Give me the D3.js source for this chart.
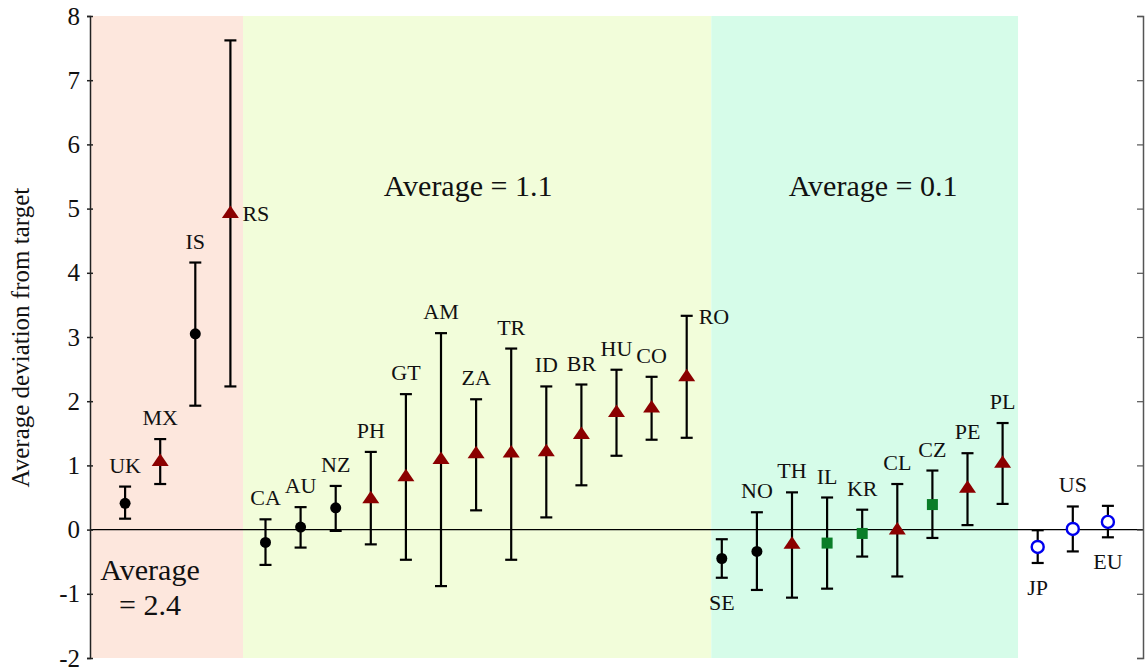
<!DOCTYPE html>
<html>
<head>
<meta charset="utf-8">
<script src="https://cdn.jsdelivr.net/npm/d3@7"></script>
<style>
  body { margin: 0; background: #fff; }
  text { font-family: "Liberation Serif", "Times New Roman", serif; fill: #111; }
</style>
</head>
<body>
<svg></svg>
<script>
var width = 1146;
var height = 670;

// countries, left to right
var countries = ["UK", "MX", "IS", "RS",
  "CA", "AU", "NZ", "PH", "GT", "AM", "ZA", "TR", "ID", "BR", "HU", "CO", "RO",
  "SE", "NO", "TH", "IL", "KR", "CL", "CZ", "PE", "PL",
  "JP", "US", "EU"];

// average deviation from target
var means = [0.41, 1.07, 3.05, 4.93,
  -0.20, 0.04, 0.34, 0.49, 0.83, 1.10, 1.19, 1.20, 1.22, 1.49, 1.83, 1.90, 2.39,
  -0.45, -0.34, -0.22, -0.21, -0.06, 0.00, 0.39, 0.65, 1.04,
  -0.27, 0.01, 0.12];

// error bar ends
var upper = [0.67, 1.41, 4.16, 7.62,
  0.16, 0.35, 0.68, 1.21, 2.11, 3.06, 2.03, 2.82, 2.23, 2.26, 2.49, 2.38, 3.33,
  -0.15, 0.27, 0.58, 0.50, 0.31, 0.71, 0.92, 1.19, 1.66,
  -0.01, 0.36, 0.37];
var lower = [0.17, 0.71, 1.93, 2.23,
  -0.55, -0.28, -0.02, -0.23, -0.47, -0.88, 0.30, -0.47, 0.19, 0.69, 1.15, 1.40, 1.43,
  -0.75, -0.94, -1.06, -0.92, -0.42, -0.73, -0.13, 0.07, 0.40,
  -0.52, -0.34, -0.12];

// marker kind: dot = black circle, tri = red triangle, sq = green square, open = blue ring
var markers = ["dot", "tri", "dot", "tri",
  "dot", "dot", "dot", "tri", "tri", "tri", "tri", "tri", "tri", "tri", "tri", "tri", "tri",
  "dot", "dot", "tri", "sq", "sq", "tri", "sq", "tri", "tri",
  "open", "open", "open"];

// where the country code sits
var labelSide = ["above", "above", "above", "right",
  "above", "above", "above", "above", "above", "above", "above", "above", "above", "above", "above", "above", "rightTop",
  "below", "above", "above", "above", "above", "above", "above", "above", "above",
  "below", "above", "below"];

// shaded groups (x in slot units) and their averages
var groups = [
  { from: 0, to: 4.36, color: "#fde7dd", text: ["Average", "= 2.4"] },
  { from: 4.36, to: 17.7, color: "#f2fdda", text: ["Average = 1.1"] },
  { from: 17.7, to: 26.44, color: "#d6fce9", text: ["Average = 0.1"] }
];

var yTicks = [-2, -1, 0, 1, 2, 3, 4, 5, 6, 7, 8];

var colors = { dot: "#000", tri: "#8b0000", sq: "#0a7d28", open: "#0000ee" };

var svg = d3.select("svg")
  .attr("width", width)
  .attr("height", height);

var x = d3.scaleLinear().domain([0, 30]).range([90, 1143]);
var y = d3.scaleLinear().domain([-2, 8]).range([658, 16]);

// background bands
svg.selectAll("rect.band")
  .data(groups)
  .enter()
  .append("rect")
    .attr("class", "band")
    .attr("x", d => x(d.from))
    .attr("width", d => x(d.to) - x(d.from))
    .attr("y", y(8))
    .attr("height", y(-2) - y(8))
    .attr("fill", d => d.color);

// group averages
svg.append("text").attr("x", x(1.71)).attr("y", y(-0.63) + 10)
  .attr("text-anchor", "middle").style("font-size", "30px").text(groups[0].text[0]);
svg.append("text").attr("x", x(1.71)).attr("y", y(-1.17) + 10)
  .attr("text-anchor", "middle").style("font-size", "30px").text(groups[0].text[1]);
svg.append("text").attr("x", x(10.77)).attr("y", y(5.35) + 10)
  .attr("text-anchor", "middle").style("font-size", "30px").text(groups[1].text[0]);
svg.append("text").attr("x", x(22.31)).attr("y", y(5.35) + 10)
  .attr("text-anchor", "middle").style("font-size", "30px").text(groups[2].text[0]);

// zero line
svg.append("line")
  .attr("x1", x(0)).attr("x2", x(30))
  .attr("y1", y(0)).attr("y2", y(0))
  .attr("stroke", "#000").attr("stroke-width", 1.2);

// left axis
var leftAxis = svg.append("g")
  .attr("transform", "translate(" + x(0) + ",0)")
  .call(d3.axisLeft(y).tickValues(yTicks).tickSize(3).tickPadding(7).tickFormat(d => String(d)));
leftAxis.select(".domain").attr("stroke", "#222").attr("stroke-width", 1.5);
leftAxis.selectAll(".tick line").attr("x1", -3).attr("x2", 3).attr("stroke", "#222").attr("stroke-width", 1.5);
leftAxis.selectAll(".tick text")
  .style("font-family", "'Liberation Serif', 'Times New Roman', serif")
  .style("font-size", "25px").attr("fill", "#111");

// right axis
var rightAxis = svg.append("g")
  .attr("transform", "translate(" + x(30) + ",0)")
  .call(d3.axisRight(y).tickValues(yTicks).tickSize(-6).tickFormat(""));
rightAxis.select(".domain").attr("stroke", "#555").attr("stroke-width", 1.5);
rightAxis.selectAll(".tick line").attr("stroke", "#555").attr("stroke-width", 1.2);

// y title
svg.append("text")
  .attr("transform", "translate(29," + y(2.99) + ") rotate(-90)")
  .attr("text-anchor", "middle")
  .style("font-size", "25px")
  .text("Average deviation from target");

var points = countries.map((c, i) => ({
  name: c, slot: i + 1, mean: means[i], hi: upper[i], lo: lower[i],
  marker: markers[i], side: labelSide[i]
}));

var pt = svg.selectAll("g.pt")
  .data(points)
  .enter()
  .append("g")
    .attr("class", "pt")
    .attr("transform", d => "translate(" + x(d.slot) + ",0)");

// error bars
pt.append("line")
  .attr("y1", d => y(d.hi)).attr("y2", d => y(d.lo))
  .attr("stroke", "#000").attr("stroke-width", 2.2);
pt.append("line")
  .attr("x1", -6).attr("x2", 6)
  .attr("y1", d => y(d.hi)).attr("y2", d => y(d.hi))
  .attr("stroke", "#000").attr("stroke-width", 2.2);
pt.append("line")
  .attr("x1", -6).attr("x2", 6)
  .attr("y1", d => y(d.lo)).attr("y2", d => y(d.lo))
  .attr("stroke", "#000").attr("stroke-width", 2.2);

// markers
pt.filter(d => d.marker === "dot").append("circle")
  .attr("cy", d => y(d.mean)).attr("r", 5.5).attr("fill", colors.dot);
pt.filter(d => d.marker === "open").append("circle")
  .attr("cy", d => y(d.mean)).attr("r", 6)
  .attr("fill", "#fff").attr("stroke", colors.open).attr("stroke-width", 2.4);
pt.filter(d => d.marker === "sq").append("rect")
  .attr("x", -5.5).attr("y", d => y(d.mean) - 5.5)
  .attr("width", 11).attr("height", 11).attr("fill", colors.sq);
pt.filter(d => d.marker === "tri").append("path")
  .attr("d", d => {
    var cy = y(d.mean);
    return "M0," + (cy - 7.5) + "L8.5," + (cy + 5) + "L-8.5," + (cy + 5) + "Z";
  })
  .attr("fill", colors.tri);

// country codes
pt.append("text")
  .style("font-size", "22px")
  .attr("text-anchor", d => d.side.indexOf("right") === 0 ? "start" : "middle")
  .attr("x", d => d.side.indexOf("right") === 0 ? 12 : 0)
  .attr("y", d => {
    if (d.side === "above") return y(d.hi) - 14;
    if (d.side === "below") return y(d.lo) + 32;
    if (d.side === "rightTop") return y(d.hi) + 8;
    return y(d.mean) + 8;
  })
  .text(d => d.name);
</script>
</body>
</html>
